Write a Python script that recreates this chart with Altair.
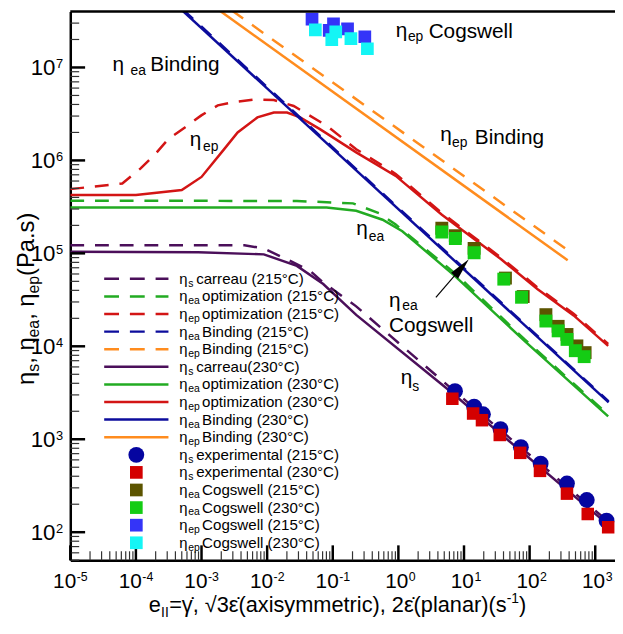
import altair as alt
import pandas as pd

# ---------------- data ----------------
# eta_s Carreau fits
carreau215_x = [1e-5, 4.5e-3, 8.9e-3, 0.0225, 0.0451, 0.0716, 0.2275, 5.47, 1600]
carreau215_y = [1.22e5, 1.22e5, 1.13e5, 8.28e4, 6.49e4, 4.86e4, 2.69e4, 3.87e3, 129]
carreau230_x = [1e-5, 8.9e-4, 8.9e-3, 0.0284, 0.0716, 0.2275, 5.47, 1600]
carreau230_y = [1.04e5, 1.03e5, 9.75e4, 7.33e4, 4.68e4, 2.18e4, 3.52e3, 119]
# eta_ea optimization
eaopt215_x = [1e-5, 0.0284, 0.2028, 0.5105, 0.91, 7.29, 82.6, 1574]
eaopt215_y = [3.69e5, 3.66e5, 3.45e5, 2.70e5, 2.04e5, 6.1e4, 1.2e4, 1.84e3]
eaopt230_x = [1e-5, 0.0803, 0.2275, 0.574, 1.148, 7.29, 82.6, 1574]
eaopt230_y = [3.11e5, 3.11e5, 2.87e5, 2.30e5, 1.73e5, 5.7e4, 1.15e4, 1.76e3]
# eta_ep optimization
epopt215_x = [1e-5, 6.2e-5, 1.17e-4, 1.97e-4, 3.13e-4, 5.58e-4, 9.93e-4, 1.77e-3, 3.16e-3,
              6.32e-3, 0.01265, 0.02535, 0.0803, 0.2275, 0.91, 4.6, 36.8, 131, 468, 1574]
epopt215_y = [4.91e5, 5.64e5, 8.15e5, 1.17e6, 1.70e6, 2.26e6, 3.05e6, 3.91e6, 4.25e6,
              4.52e6, 4.46e6, 3.85e6, 2.37e6, 1.32e6, 7.16e5, 2.72e5, 9.0e4, 4.32e4, 2.24e4, 1.06e4]
epopt230_x = [1e-5, 1e-4, 5e-4, 1e-3, 2.23e-3, 3.55e-3, 7.1e-3, 0.01265, 0.0201, 0.0318,
              0.0637, 0.2275, 0.91, 4.6, 36.8, 131, 468, 1574]
epopt230_y = [4.25e5, 4.25e5, 4.8e5, 6.64e5, 1.33e6, 2.0e6, 2.9e6, 3.27e6, 3.27e6, 2.9e6,
              2.17e6, 1.22e6, 6.81e5, 2.6e5, 8.63e4, 4.14e4, 2.15e4, 1.01e4]
# Binding model
eabind215_x = [5.2e-4, 1600]
eabind215_y = [4.2e7, 2.55e3]
eabind230_x = [5e-4, 1600]
eabind230_y = [4.15e7, 2.49e3]
epbind215_x = [2.9e-3, 398]
epbind215_y = [4.1e7, 1.06e5]
epbind230_x = [1.9e-3, 380]
epbind230_y = [4.08e7, 8.43e4]
# experimental shear viscosity
exp215_x = [7.29, 14.26, 19.45, 35.97, 73.6, 147.2, 370.7, 743, 1486]
exp215_y = [3289, 2244, 1858, 1288, 822, 546, 334, 222, 133]
exp230_x = [6.64, 13.77, 18.79, 35.08, 71.9, 143.9, 370.7, 769, 1574]
exp230_y = [2729, 1892, 1603, 1112, 714, 457, 260, 157, 113]
# Cogswell eta_ea
cogea215_x = [4.59, 7.38, 14.26, 42.8, 79.8, 177, 272, 371, 525, 701]
cogea215_y = [1.86e5, 1.55e5, 1.13e5, 5.42e4, 3.43e4, 2.19e4, 1.64e4, 1.34e4, 1.01e4, 8.55e3]
cogea230_x = [4.59, 7.38, 14.26, 40.4, 75.3, 177, 272, 371, 497, 678]
cogea230_y = [1.70e5, 1.445e5, 1.014e5, 5.28e4, 3.37e4, 1.87e4, 1.466e4, 1.186e4, 8.97e3, 7.74e3]
# Cogswell eta_ep
cogep215_x = [0.0483, 0.0883, 0.1026, 0.168, 0.308]
cogep215_y = [3.32e7, 2.51e7, 2.94e7, 2.60e7, 2.14e7]
cogep230_x = [0.0543, 0.0966, 0.111, 0.189, 0.337]
cogep230_y = [2.54e7, 1.99e7, 2.42e7, 2.04e7, 1.59e7]

# legend
legend_keys = ["s215", "ea215", "ep215", "eaB215", "epB215",
               "s230", "ea230", "ep230", "eaB230", "epB230",
               "exp215", "exp230", "coga215", "coga230", "cogp215", "cogp230"]
legend_subs = ["s", "ea", "ep", "ea", "ep", "s", "ea", "ep", "ea", "ep",
               "s", "s", "ea", "ea", "ep", "ep"]
legend_texts = ["carreau (215°C)", "optimization (215°C)", "optimization (215°C)",
                "Binding (215°C)", "Binding (215°C)", "carreau(230°C)",
                "optimization (230°C)", "optimization (230°C)", "Binding (230°C)",
                "Binding (230°C)", "experimental (215°C)", "experimental (230°C)",
                "Cogswell (215°C)", "Cogswell (230°C)", "Cogswell (215°C)", "Cogswell (230°C)"]
legend_kind = ["dash"] * 5 + ["solid"] * 5 + ["circle"] + ["square"] * 5
series_colors = ["#4b0f5a", "#22ab22", "#d31515", "#0c0c9c", "#ff8c1e",
                 "#4b0f5a", "#22ab22", "#d31515", "#0c0c9c", "#ff8c1e",
                 "#0505a0", "#d40000", "#5c5400", "#14cc14", "#3434f8", "#14f5f5"]

# in-plot annotations (anchor = left end of baseline)
ann_big_text = ["η", "Binding", "η", "η", "η", "Binding", "η", "Cogswell", "η", "Cogswell", "η"]
ann_big_x = [4.38e-5, 1.66e-4, 6.64e-4, 0.2275, 4.34, 14.6, 0.91, 2.89, 0.721, 0.721, 1.084]
ann_big_y = [9.14e6, 9.06e6, 1.42e6, 1.567e5, 1.603e6, 1.503e6, 2.15e7, 2.05e7, 2.65e4, 1.436e4, 3.93e3]
ann_sub_text = ["ea", "ep", "ea", "ep", "ep", "ea", "s"]
ann_sub_x = [8.3e-5, 1.054e-3, 0.353, 6.58, 1.397, 1.148, 1.625]
ann_sub_y = [8.28e6, 1.256e6, 1.352e5, 1.383e6, 1.905e7, 2.46e4, 3.34e3]
arrow_tail = [3.73, 3.37e4]
arrow_head = [9.22, 7.05e4]

# axes
x_decades = [-5, -4, -3, -2, -1, 0, 1, 2, 3]
y_decades = [2, 3, 4, 5, 6, 7]
minor_mult = [2, 3, 4, 5, 6, 7, 8, 9]

# ---------------- chart ----------------
W, H = 551, 555
X_DOMAIN = [1e-5, 2000]
Y_DOMAIN = [50, 4e7]
FONT = "Liberation Sans"

xscale = alt.Scale(type="log", domain=X_DOMAIN, nice=False)
yscale = alt.Scale(type="log", domain=Y_DOMAIN, nice=False)
axis_cfg = dict(labels=False, ticks=False, grid=False, title=None,
                domainColor="black", domainWidth=2.5)


def XE(f):
    return alt.X(f"{f}:Q", scale=xscale, axis=alt.Axis(**axis_cfg))


def YE(f):
    return alt.Y(f"{f}:Q", scale=yscale, axis=alt.Axis(**axis_cfg))


C = alt.Color("key:N", scale=alt.Scale(domain=legend_keys, range=series_colors), legend=None)


def frame(key, xs, ys):
    return pd.DataFrame({"key": key, "x": xs, "y": ys, "i": list(range(len(xs)))})


solid_df = pd.concat([frame("s230", carreau230_x, carreau230_y),
                      frame("ea230", eaopt230_x, eaopt230_y),
                      frame("ep230", epopt230_x, epopt230_y),
                      frame("eaB230", eabind230_x, eabind230_y),
                      frame("epB230", epbind230_x, epbind230_y)])
dash_df = pd.concat([frame("s215", carreau215_x, carreau215_y),
                     frame("ea215", eaopt215_x, eaopt215_y),
                     frame("ep215", epopt215_x, epopt215_y),
                     frame("eaB215", eabind215_x, eabind215_y),
                     frame("epB215", epbind215_x, epbind215_y)])

layers = []
layers.append(alt.Chart(solid_df).mark_line(strokeWidth=2.5, clip=True)
              .encode(x=XE("x"), y=YE("y"), color=C, order="i:Q"))
layers.append(alt.Chart(dash_df).mark_line(strokeWidth=2.5, strokeDash=[14, 11], clip=True)
              .encode(x=XE("x"), y=YE("y"), color=C, order="i:Q"))

pts = [("exp215", exp215_x, exp215_y, "circle", 256),
       ("exp230", exp230_x, exp230_y, "square", 160),
       ("coga215", cogea215_x, cogea215_y, "square", 170),
       ("coga230", cogea230_x, cogea230_y, "square", 170),
       ("cogp215", cogep215_x, cogep215_y, "square", 165),
       ("cogp230", cogep230_x, cogep230_y, "square", 165)]
for key, xs, ys, shape, size in pts:
    layers.append(alt.Chart(frame(key, xs, ys))
                  .mark_point(shape=shape, filled=True, size=size, opacity=1, strokeWidth=0, clip=True)
                  .encode(x=XE("x"), y=YE("y"), color=C))

# ticks (inward)
y_major = [10.0 ** k for k in y_decades]
y_minor = [m * 10.0 ** k for k in [1] + y_decades for m in minor_mult
           if Y_DOMAIN[0] <= m * 10.0 ** k < Y_DOMAIN[1]]
x_major = [10.0 ** k for k in x_decades]
x_minor = [m * 10.0 ** k for k in x_decades for m in minor_mult if m * 10.0 ** k < X_DOMAIN[1]]

layers.append(alt.Chart(pd.DataFrame({"v": y_major})).mark_rule(color="black", strokeWidth=2.5)
              .encode(y=YE("v"), x=alt.value(0), x2=alt.value(15)))
layers.append(alt.Chart(pd.DataFrame({"v": y_minor})).mark_rule(color="#333", strokeWidth=1.2)
              .encode(y=YE("v"), x=alt.value(0), x2=alt.value(9)))
layers.append(alt.Chart(pd.DataFrame({"v": x_major})).mark_rule(color="black", strokeWidth=2.5)
              .encode(x=XE("v"), y=alt.value(H), y2=alt.value(H - 15)))
layers.append(alt.Chart(pd.DataFrame({"v": x_minor})).mark_rule(color="#333", strokeWidth=1.2)
              .encode(x=XE("v"), y=alt.value(H), y2=alt.value(H - 9)))

# top frame line
layers.append(alt.Chart(pd.DataFrame({"v": [0]})).mark_rule(color="black", strokeWidth=2.5)
              .encode(x=alt.value(0), x2=alt.value(W), y=alt.value(0)))

# tick labels
xl = pd.DataFrame({"v": [10.0 ** k for k in x_decades], "e": [str(k) for k in x_decades],
                   "neg": [k < 0 for k in x_decades]})
for flt, dx in [("datum.neg", 6.0), ("!datum.neg", 10.0)]:
    b = alt.Chart(xl).transform_filter(flt)
    layers.append(b.mark_text(text="10", align="right", baseline="alphabetic", dx=dx,
                              font=FONT, fontSize=21, color="black")
                  .encode(x=XE("v"), y=alt.value(H + 28.4)))
    layers.append(b.mark_text(align="left", baseline="alphabetic", dx=dx + 0.5,
                              font=FONT, fontSize=12.5, color="black")
                  .encode(x=XE("v"), y=alt.value(H + 20.7), text="e:N"))
yl = pd.DataFrame({"v": [10.0 ** k for k in y_decades], "e": [str(k) for k in y_decades]})
layers.append(alt.Chart(yl).mark_text(text="10", align="right", baseline="alphabetic", dy=8,
                                      font=FONT, fontSize=22.5, color="black")
              .encode(y=YE("v"), x=alt.value(-15)))
layers.append(alt.Chart(yl).mark_text(align="left", baseline="alphabetic", dy=1,
                                      font=FONT, fontSize=13, color="black")
              .encode(y=YE("v"), x=alt.value(-14.5), text="e:N"))

# annotations
layers.append(alt.Chart(pd.DataFrame({"t": ann_big_text, "x": ann_big_x, "y": ann_big_y}))
              .mark_text(align="left", baseline="alphabetic", font=FONT, fontSize=21, color="black")
              .encode(x=XE("x"), y=YE("y"), text="t:N"))
layers.append(alt.Chart(pd.DataFrame({"t": ann_sub_text, "x": ann_sub_x, "y": ann_sub_y}))
              .mark_text(align="left", baseline="alphabetic", font=FONT, fontSize=14, color="black")
              .encode(x=XE("x"), y=YE("y"), text="t:N"))
arrow_df = pd.DataFrame({"x": [arrow_tail[0]], "y": [arrow_tail[1]],
                         "x2": [arrow_head[0]], "y2": [arrow_head[1]]})
layers.append(alt.Chart(arrow_df).mark_rule(color="black", strokeWidth=1.2)
              .encode(x=XE("x"), y=YE("y"), x2="x2:Q", y2="y2:Q"))
layers.append(alt.Chart(arrow_df).mark_point(shape="M0,-1L0.42,1L-0.42,1Z", filled=True, size=484,
                                             angle=41, opacity=1, color="black", strokeWidth=0)
              .encode(x=XE("x2"), y=YE("y2")))

# legend
leg = pd.DataFrame({"key": legend_keys, "sub": legend_subs, "txt": legend_texts,
                    "kind": legend_kind, "row": list(range(len(legend_keys)))})
lb = alt.Chart(leg).transform_calculate(py="270.4 + datum.row * 17.8",
                                        rx="datum.sub == 's' ? 127.3 : 133.3")
LY = alt.Y("py:Q", scale=None, axis=None)
layers.append(lb.transform_filter("datum.kind == 'dash'")
              .mark_rule(strokeWidth=2.5, strokeDash=[15, 11])
              .encode(y=LY, x=alt.value(34.3), x2=alt.value(99.3), color=C))
layers.append(lb.transform_filter("datum.kind == 'solid'")
              .mark_rule(strokeWidth=2.5)
              .encode(y=LY, x=alt.value(34.3), x2=alt.value(99.3), color=C))
layers.append(lb.transform_filter("datum.kind == 'circle'")
              .mark_point(shape="circle", filled=True, size=256, opacity=1, strokeWidth=0)
              .encode(y=LY, x=alt.value(66.8), color=C))
layers.append(lb.transform_filter("datum.kind == 'square'")
              .mark_point(shape="square", filled=True, size=165, opacity=1, strokeWidth=0)
              .encode(y=LY, x=alt.value(66.8), color=C))
layers.append(lb.mark_text(text="η", align="left", baseline="alphabetic", dy=5,
                           font=FONT, fontSize=15, color="black")
              .encode(y=LY, x=alt.value(110.3)))
layers.append(lb.mark_text(align="left", baseline="alphabetic", dy=8,
                           font=FONT, fontSize=10.5, color="black")
              .encode(y=LY, x=alt.value(119.3), text="sub:N"))
layers.append(lb.mark_text(align="left", baseline="alphabetic", dy=5,
                           font=FONT, fontSize=15.3, color="black")
              .encode(y=LY, x=alt.X("rx:Q", scale=None, axis=None), text="txt:N"))

# axis titles built from pieces (sub/superscripts)
one = pd.DataFrame({"a": [0]})


def piece(text, x, y, size, angle=0):
    return (alt.Chart(one).mark_text(text=text, align="left", baseline="alphabetic", angle=angle,
                                     font=FONT, fontSize=size, color="black")
            .encode(x=alt.value(x), y=alt.value(y)))


xt_base = 607.7
layers += [piece("e", 79.3, xt_base, 22),
           piece("II", 91.8, xt_base + 5, 14),
           piece("=γ̇, √3ε̇(axisymmetric), 2ε̇(planar)(s", 100.0, xt_base, 22),
           piece("-1", 441.5, xt_base - 9.5, 14),
           piece(")", 454.0, xt_base, 22)]
yb, ys_ = -36.7, -31.7
layers += [piece("η", yb, 377.7, 24, 270),
           piece("s", ys_, 364.3, 16, 270),
           piece(",", yb, 356.3, 24, 270),
           piece("η", yb, 343.0, 24, 270),
           piece("ea", ys_, 329.7, 16, 270),
           piece(",", yb, 311.9, 24, 270),
           piece("η", yb, 298.6, 24, 270),
           piece("ep", ys_, 285.3, 16, 270),
           piece("(Pa.s)", yb, 267.5, 24, 270)]

chart = (alt.layer(*layers)
         .properties(width=W, height=H, background="white",
                     padding={"left": 63, "top": 0, "right": 0, "bottom": 60},
                     autosize=alt.AutoSizeParams(type="none"))
         .configure_view(stroke=None))

chart.save("out.html", embed_options={"renderer": "svg", "actions": False})
